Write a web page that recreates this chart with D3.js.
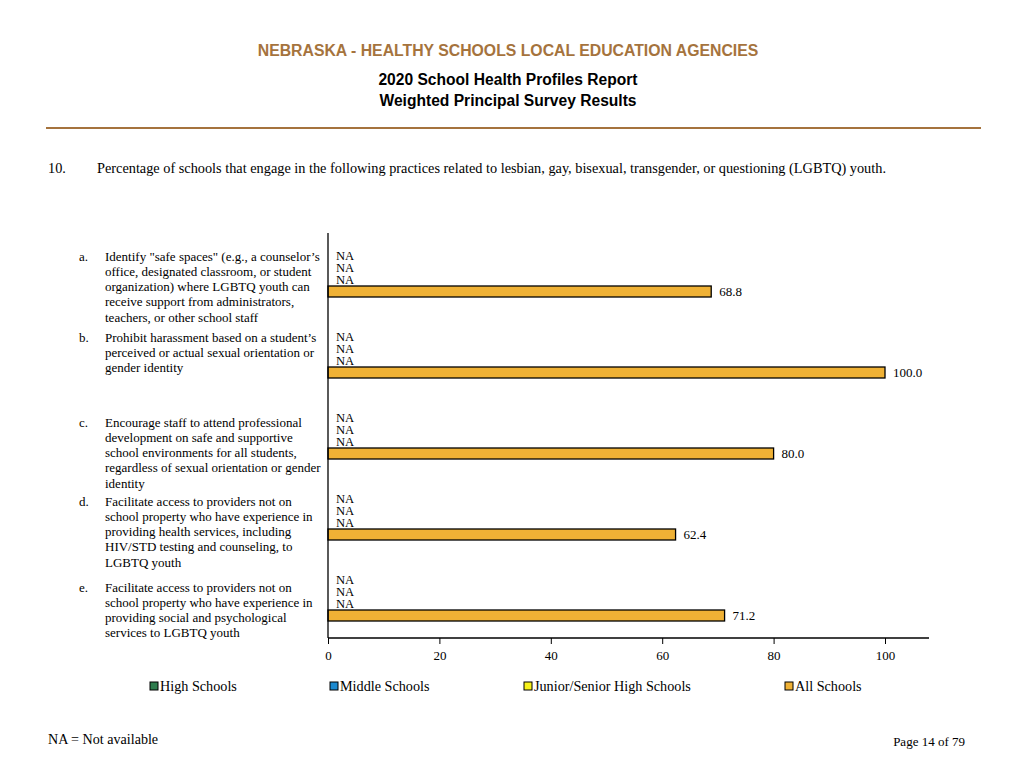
<!DOCTYPE html>
<html>
<head>
<meta charset="utf-8">
<script src="https://cdn.jsdelivr.net/npm/d3@7"></script>
<style>
  html, body { margin: 0; padding: 0; background: #fff; }
  svg { display: block; }
</style>
</head>
<body>
<svg id="chart" width="1024" height="768"></svg>
<script>
// ---- Data ----
const categoryLetters = ["a.", "b.", "c.", "d.", "e."];
const categoryLabels = [
  ["Identify \"safe spaces\" (e.g., a counselor\u2019s", "office, designated classroom, or student", "organization) where LGBTQ youth can", "receive support from administrators,", "teachers, or other school staff"],
  ["Prohibit harassment based on a student\u2019s", "perceived or actual sexual orientation or", "gender identity"],
  ["Encourage staff to attend professional", "development on safe and supportive", "school environments for all students,", "regardless of sexual orientation or gender", "identity"],
  ["Facilitate access to providers not on", "school property who have experience in", "providing health services, including", "HIV/STD testing and counseling, to", "LGBTQ youth"],
  ["Facilitate access to providers not on", "school property who have experience in", "providing social and psychological", "services to LGBTQ youth"]
];
const seriesNames = ["High Schools", "Middle Schools", "Junior/Senior High Schools", "All Schools"];
const highSchools = [null, null, null, null, null];
const middleSchools = [null, null, null, null, null];
const juniorSeniorHighSchools = [null, null, null, null, null];
const allSchools = [68.8, 100.0, 80.0, 62.4, 71.2];
const xTicks = [0, 20, 40, 60, 80, 100];

const seriesColors = ["#2E7D4E", "#1C8AD0", "#F7F21A", "#EFB135"];
const seriesValues = [highSchools, middleSchools, juniorSeniorHighSchools, allSchools];

// ---- Layout ----
const svg = d3.select("#chart");
const serif = "'Liberation Serif', 'Times New Roman', serif";
const sans = "'Liberation Sans', Arial, sans-serif";

// Header
svg.append("text").attr("x", 508).attr("y", 55.5).attr("text-anchor", "middle")
  .attr("font-family", sans).attr("font-weight", "bold").attr("font-size", 15.8)
  .attr("fill", "#A5733D").text("NEBRASKA - HEALTHY SCHOOLS LOCAL EDUCATION AGENCIES");
svg.append("text").attr("x", 508).attr("y", 84.5).attr("text-anchor", "middle")
  .attr("font-family", sans).attr("font-weight", "bold").attr("font-size", 15.6)
  .attr("fill", "#000").text("2020 School Health Profiles Report");
svg.append("text").attr("x", 508).attr("y", 105.5).attr("text-anchor", "middle")
  .attr("font-family", sans).attr("font-weight", "bold").attr("font-size", 15.6)
  .attr("fill", "#000").text("Weighted Principal Survey Results");
svg.append("line").attr("x1", 46).attr("x2", 981).attr("y1", 128).attr("y2", 128)
  .attr("stroke", "#A5733D").attr("stroke-width", 2);

// Question
svg.append("text").attr("x", 48).attr("y", 173)
  .attr("font-family", serif).attr("font-size", 14.3).text("10.");
svg.append("text").attr("x", 97).attr("y", 173)
  .attr("font-family", serif).attr("font-size", 14.3)
  .text("Percentage of schools that engage in the following practices related to lesbian, gay, bisexual, transgender, or questioning (LGBTQ) youth.");

// Scales
const x = d3.scaleLinear().domain([0, 100]).range([328, 885]);
const xMax = 107.9;
const y = d3.scaleBand().domain(d3.range(categoryLabels.length)).range([233, 638]).padding(0);
const groupH = 48;
const ySub = d3.scaleBand().domain(d3.range(seriesNames.length))
  .range([(y.bandwidth() - groupH) / 2, (y.bandwidth() + groupH) / 2]).padding(0);

// Bars / NA labels
categoryLabels.forEach((_, ci) => {
  const g = svg.append("g").attr("transform", `translate(0,${y(ci)})`);
  seriesValues.forEach((vals, si) => {
    const v = vals[ci];
    const yc = ySub(si) + ySub.bandwidth() / 2;
    if (v === null) {
      g.append("text").attr("x", x(0) + 8).attr("y", yc + 4.3)
        .attr("font-family", serif).attr("font-size", 12.6).text("NA");
    } else {
      g.append("rect").attr("x", x(0)).attr("y", ySub(si) + 0.5)
        .attr("width", x(v) - x(0)).attr("height", ySub.bandwidth() - 1)
        .attr("fill", seriesColors[si]).attr("stroke", "#000").attr("stroke-width", 1.3);
      g.append("text").attr("x", x(v) + 8).attr("y", yc + 4.5)
        .attr("font-family", serif).attr("font-size", 13).text(v.toFixed(1));
    }
  });
});

// Category labels
const labelOffsets = [23, 23, 27, 25, 30];
categoryLabels.forEach((lines, ci) => {
  const top = y(ci) + labelOffsets[ci];
  svg.append("text").attr("x", 79).attr("y", top + 4.5)
    .attr("font-family", serif).attr("font-size", 13).text(categoryLetters[ci]);
  lines.forEach((ln, li) => {
    svg.append("text").attr("x", 105).attr("y", top + 4.5 + li * 15.3)
      .attr("font-family", serif).attr("font-size", 13).text(ln);
  });
});

// Axes
svg.append("line").attr("x1", x(0)).attr("x2", x(0)).attr("y1", 233).attr("y2", 638)
  .attr("stroke", "#000").attr("stroke-width", 1.3);
const xAxis = d3.axisBottom(x).tickValues(xTicks).tickSize(6).tickPadding(7).tickFormat(d3.format("d"));
const ax = svg.append("g").attr("transform", "translate(0,638)").call(xAxis);
ax.select(".domain").remove();
ax.append("line").attr("x1", x(0)).attr("x2", x(xMax)).attr("y1", 0).attr("y2", 0)
  .attr("stroke", "#000").attr("stroke-width", 1.3);
ax.selectAll(".tick line").attr("stroke", "#000");
ax.selectAll(".tick text").attr("font-family", serif).attr("font-size", 13).attr("fill", "#000");

// Legend
const legendX = [150, 330, 524, 785];
seriesNames.forEach((name, i) => {
  const lg = svg.append("g").attr("transform", `translate(${legendX[i]},686)`);
  lg.append("rect").attr("x", 0).attr("y", -4).attr("width", 8).attr("height", 8)
    .attr("fill", seriesColors[i]).attr("stroke", "#000").attr("stroke-width", 1);
  lg.append("text").attr("x", 10).attr("y", 5)
    .attr("font-family", serif).attr("font-size", 14.2).text(name);
});

// Footer
svg.append("text").attr("x", 48).attr("y", 743.5)
  .attr("font-family", serif).attr("font-size", 14.1).text("NA = Not available");
svg.append("text").attr("x", 965).attr("y", 746).attr("text-anchor", "end")
  .attr("font-family", serif).attr("font-size", 13).text("Page 14 of 79");
</script>
</body>
</html>
